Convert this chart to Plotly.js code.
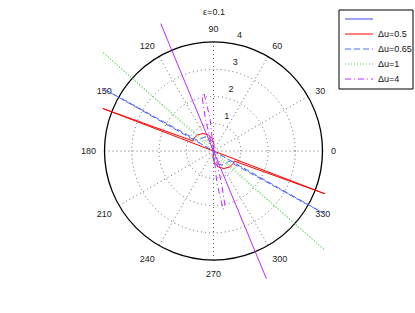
<!DOCTYPE html>
<html>
<head>
<meta charset="utf-8">
<script src="https://cdn.plot.ly/plotly-3.0.1.min.js"></script>
<style>html,body{margin:0;padding:0;background:#fff}#chart{width:415px;height:313px}</style>
</head>
<body>
<div id="chart"></div>
<script>
// Series data (theta in degrees, r)
const labels = ["", "\u0394u=0.5", "\u0394u=0.65", "\u0394u=1", "\u0394u=4"];

const blankTheta = [0, 0];
const blankR = [0, 0];

const redTheta = [90, 85.6, 94.6, 107.3, 121, 134.9, 149, 154, 159, 339, 334, 329, 314.9, 301, 287.3, 274.6, 265.6, 270];
const redR     = [0, 0.24, 0.44, 0.62, 0.75, 0.83, 0.86, 0.84, 4.35, 4.37, 0.84, 0.86, 0.83, 0.75, 0.62, 0.44, 0.24, 0];

const blueTheta = [90, 86, 96, 109, 122, 135, 146, 150.5, 330.5, 326, 315, 302, 289, 276, 266, 270];
const blueR     = [0, 0.2, 0.36, 0.5, 0.6, 0.65, 0.66, 4.65, 4.65, 0.66, 0.65, 0.6, 0.5, 0.36, 0.2, 0];

const greenTheta = [90, 88, 98, 110, 122, 132, 138.3, 318.3, 312, 302, 290, 278, 268, 270];
const greenR     = [0, 0.15, 0.27, 0.38, 0.45, 0.48, 5.45, 5.45, 0.48, 0.45, 0.38, 0.27, 0.15, 0];

const purpleLobeTheta = [90, 96, 99.5, 102, 104, 107, 287, 284, 282, 279.5, 276, 270];
const purpleLobeR     = [0, 1.2, 2.17, 2.0, 1.2, 0.3, 0.3, 1.2, 2.0, 2.17, 1.2, 0];

const purpleLineTheta = [112.5, 292.5];
const purpleLineR     = [5.06, 5.07];

const angTickVals = [0, 30, 60, 90, 120, 150, 180, 210, 240, 270, 300, 330];
const angTickText = ["0", "30", "60", "90", "120", "150", "180", "210", "240", "270", "300", "330"];
const radTickVals = [1, 2, 3, 4];

const FONT = "Liberation Sans, Arial, Helvetica, sans-serif";
const W = 415, H = 313;
const CX = 213.5, CY = 151, R = 109;   // main polar circle (px)
const RMAX = 4, RMAX2 = 5.5, RLAB0 = -0.38;   // data subplot range, label subplot range start

const colors = ["rgb(60,70,240)", "rgb(255,0,0)", "rgb(80,105,255)", "rgb(70,205,70)", "rgb(190,40,255)"];
const dashes = ["solid", "solid", "6px,3px", "1px,2px", "6px,3px,1px,3px"];

function tr(theta, r, i, subplot) {
  return {
    type: "scatterpolar", subplot: subplot, mode: "lines", theta: theta, r: r, name: labels[i],
    line: {color: colors[i], width: 1, dash: dashes[i]},
    showlegend: false, hoverinfo: "skip"
  };
}

const data = [
  tr(blankTheta, blankR, 0, "polar"),
  tr(blankTheta, blankR, 0, "polar3"),
  tr(redTheta, redR, 1, "polar2"),
  tr(blueTheta, blueR, 2, "polar2"),
  tr(greenTheta, greenR, 3, "polar2"),
  tr(purpleLobeTheta, purpleLobeR, 4, "polar2"),
  Object.assign(tr(purpleLineTheta, purpleLineR, 4, "polar2"), {line: {color: colors[4], width: 1, dash: "solid"}})
];

// manual legend (compact, like the original)
const shapes = [{type: "rect", xref: "paper", yref: "paper",
  x0: 339/W, x1: 413/W, y0: 1 - 89/H, y1: 1 - 10/H,
  line: {color: "#000", width: 1}, fillcolor: "#fff", layer: "above"}];
const annotations = [];
labels.forEach(function (lab, i) {
  const yy = 1 - (19 + 15 * i) / H;
  shapes.push({type: "line", xref: "paper", yref: "paper", x0: 345/W, x1: 373/W, y0: yy, y1: yy,
    line: {color: colors[i], width: 1, dash: dashes[i]}, layer: "above"});
  if (lab) annotations.push({xref: "paper", yref: "paper", x: 376/W, y: yy, xanchor: "left", yanchor: "middle",
    text: lab, showarrow: false, font: {family: FONT, size: 9, color: "#111"}});
});

function dom(scale) {
  return {x: [(CX - R*scale)/W, (CX + R*scale)/W], y: [(H - CY - R*scale)/H, (H - CY + R*scale)/H]};
}
const hiddenAng = {visible: false, showline: false, showgrid: false, showticklabels: false, ticks: "",
                   direction: "counterclockwise", rotation: 0};

const layout = {
  width: W, height: H,
  margin: {l: 0, r: 0, t: 0, b: 0},
  paper_bgcolor: "#fff",
  font: {family: FONT, size: 9, color: "#222"},
  title: {text: "\u03b5=0.1", x: 214/W, xanchor: "center", y: 1 - 12/H, yanchor: "middle",
          font: {family: FONT, size: 9, color: "#222"}},
  showlegend: false,
  shapes: shapes,
  annotations: annotations,
  polar: {
    domain: dom(1),
    bgcolor: "rgba(0,0,0,0)",
    angularaxis: {
      tickmode: "array", tickvals: angTickVals, ticktext: angTickText,
      direction: "counterclockwise", rotation: 0,
      showline: true, linecolor: "#000", linewidth: 1.3,
      showgrid: true, gridcolor: "#666", gridwidth: 1, griddash: "1px,3px",
      ticks: "outside", ticklen: 6, tickcolor: "rgba(0,0,0,0)",
      tickfont: {family: FONT, size: 9, color: "#222"}
    },
    radialaxis: {
      range: [0, RMAX], tickmode: "array", tickvals: radTickVals,
      angle: 81, showline: false, ticks: "", showticklabels: false,
      showgrid: true, gridcolor: "#666", gridwidth: 1, griddash: "1px,3px"
    }
  },
  // radial tick labels, drawn slightly beyond each ring like the original
  polar3: {
    domain: dom((RMAX - RLAB0) / RMAX),
    bgcolor: "rgba(0,0,0,0)",
    angularaxis: hiddenAng,
    radialaxis: {
      range: [RLAB0, RMAX], tickmode: "array", tickvals: radTickVals,
      angle: 81, tickangle: 81, showline: false, ticks: "", showgrid: false,
      tickfont: {family: FONT, size: 9, color: "#222"}
    }
  },
  polar2: {
    domain: dom(RMAX2 / RMAX),
    bgcolor: "rgba(0,0,0,0)",
    angularaxis: hiddenAng,
    radialaxis: {visible: false, range: [0, RMAX2], showline: false, showgrid: false, showticklabels: false, ticks: ""}
  }
};

Plotly.newPlot("chart", data, layout, {displayModeBar: false, staticPlot: true});
</script>
</body>
</html>
